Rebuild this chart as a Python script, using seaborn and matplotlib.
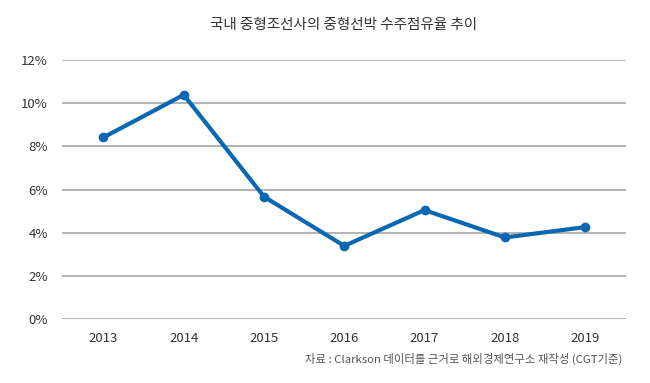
import matplotlib
matplotlib.use("Agg")
import matplotlib.pyplot as plt
import seaborn as sns
import pandas as pd

years = ["2013", "2014", "2015", "2016", "2017", "2018", "2019"]
share = [8.42, 10.39, 5.67, 3.39, 5.05, 3.78, 4.26]
yticks = [0, 2, 4, 6, 8, 10, 12]
title = "국내 중형조선사의 중형선박 수주점유율 추이"
source = "자료 : Clarkson 데이터를 근거로 해외경제연구소 재작성 (CGT기준)"

sns.set_style("white")
plt.rcParams['font.family'] = ['Noto Sans CJK KR', 'DejaVu Sans']

df = pd.DataFrame({"year": years, "share": share})

fig = plt.figure(figsize=(6.5, 3.83), dpi=100)
ax = fig.add_axes([0.095, 0.167, 0.868, 0.676])

for t in yticks:
    ax.axhline(t, color="#b3b3b3", linewidth=1.4, zorder=0)

sns.lineplot(data=df, x="year", y="share", ax=ax, color="#0a67b3",
             linewidth=3, marker="o", markersize=7, markeredgewidth=0, sort=False)

ax.set_xlim(-0.52, 6.51)
ax.set_ylim(0, 12)
ax.set_yticks(yticks)
ax.set_yticklabels([f"{t}%" for t in yticks])
ax.set_xlabel("")
ax.set_ylabel("")
ax.tick_params(axis="both", length=0, labelsize=9.5, colors="#333333")
ax.tick_params(axis="x", pad=9)
ax.tick_params(axis="y", pad=10)
for s in ax.spines.values():
    s.set_visible(False)
ax.grid(False)

fig.text(0.528, 0.935, title, ha="center", va="center", fontsize=10.5, color="#333333")
fig.text(0.957, 0.063, source, ha="right", va="center", fontsize=8.2, color="#555555")

fig.savefig("out.png", dpi=100, facecolor="white")
